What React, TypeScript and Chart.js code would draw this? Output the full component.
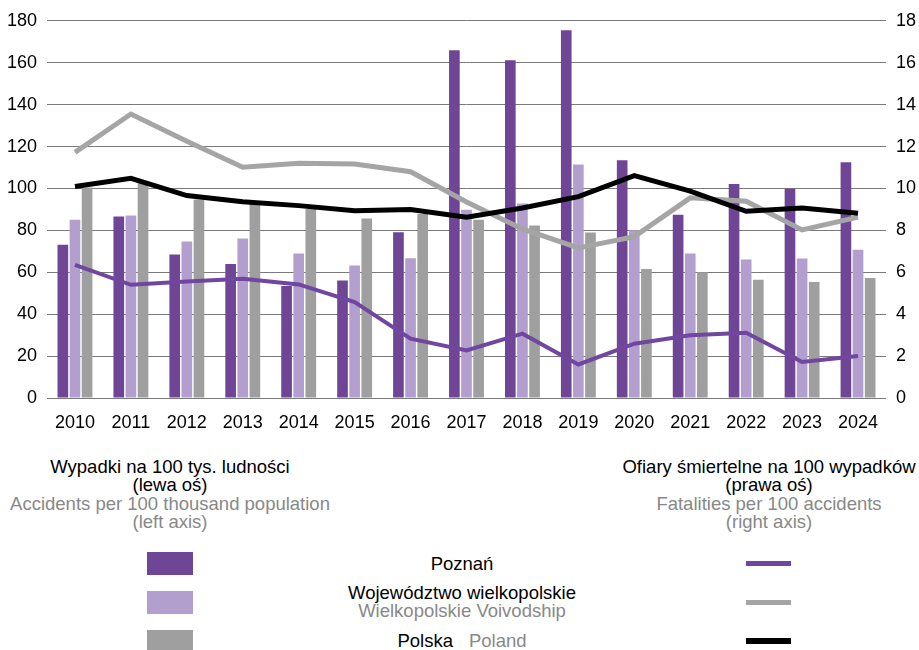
import React, { useEffect, useRef } from "react";
import { Chart, registerables } from "chart.js";

Chart.register(...registerables);

const years = ["2010","2011","2012","2013","2014","2015","2016","2017","2018","2019","2020","2021","2022","2023","2024"];

// Accidents per 100 thousand population (left axis)
const accPoznan = [73.1, 86.6, 68.5, 64.0, 53.5, 56.1, 79.1, 166.0, 161.2, 175.5, 113.4, 87.4, 102.1, 99.8, 112.5];
const accWlkp = [85.1, 87.1, 74.7, 76.1, 68.9, 63.2, 66.7, 89.8, 92.8, 111.4, 80.0, 68.9, 66.1, 66.6, 70.8];
const accPolska = [100.5, 102.5, 94.7, 92.6, 90.2, 85.6, 87.8, 85.1, 82.3, 79.0, 61.6, 60.0, 56.4, 55.4, 57.3];

// Fatalities per 100 accidents (right axis)
const fatPoznan = [6.35, 5.4, 5.56, 5.69, 5.42, 4.58, 2.83, 2.27, 3.07, 1.6, 2.59, 2.99, 3.11, 1.72, 2.0];
const fatWlkp = [11.72, 13.55, 12.25, 11.01, 11.2, 11.17, 10.8, 9.35, 8.07, 7.16, 7.7, 9.55, 9.39, 8.02, 8.63];
const fatPolska = [10.09, 10.48, 9.66, 9.37, 9.18, 8.94, 8.99, 8.63, 9.07, 9.61, 10.61, 9.87, 8.91, 9.07, 8.82];

const leftTicks = [0, 20, 40, 60, 80, 100, 120, 140, 160, 180];
const rightTicks = [0, 2, 4, 6, 8, 10, 12, 14, 16, 18];

const C_DARK = "#6F4696";
const C_LIGHT = "#B29FCE";
const C_GRAYBAR = "#9F9F9F";
const C_GRAYLINE = "#A5A5A5";
const C_PURPLELINE = "#7046A0";
const FONT = "'Liberation Sans', Arial, sans-serif";
const GRAYTXT = "#888888";

export default function App() {
  const ref = useRef<HTMLCanvasElement | null>(null);

  useEffect(() => {
    if (!ref.current) return;
    const bar = (label: string, data: number[], color: string) => ({
      type: "bar" as const,
      label,
      data,
      backgroundColor: color,
      borderWidth: 0,
      yAxisID: "y",
      order: 3,
      categoryPercentage: 0.65,
      barPercentage: 0.88,
    });
    const line = (label: string, data: number[], color: string, width: number, order: number) => ({
      type: "line" as const,
      label,
      data,
      borderColor: color,
      backgroundColor: color,
      borderWidth: width,
      pointRadius: 0,
      tension: 0,
      fill: false,
      borderCapStyle: "butt" as const,
      borderJoinStyle: "miter" as const,
      yAxisID: "y1",
      order,
    });
    const chart = new Chart(ref.current, {
      type: "bar",
      data: {
        labels: years,
        datasets: [
          bar("Poznań", accPoznan, C_DARK),
          bar("Województwo wielkopolskie", accWlkp, C_LIGHT),
          bar("Polska", accPolska, C_GRAYBAR),
          line("Poznań (ofiary)", fatPoznan, C_PURPLELINE, 4, 2),
          line("Wielkopolskie (ofiary)", fatWlkp, C_GRAYLINE, 5, 1),
          line("Polska (ofiary)", fatPolska, "#000000", 5, 0),
        ] as any,
      },
      options: {
        responsive: false,
        animation: false,
        devicePixelRatio: 1,
        layout: { padding: { top: 20, left: 0, right: 0, bottom: 0 } },
        plugins: { legend: { display: false }, tooltip: { enabled: false } },
        scales: {
          x: {
            grid: { display: false },
            border: { display: false },
            ticks: { color: "#000", font: { family: FONT, size: 18 }, padding: 6, maxRotation: 0, autoSkip: false },
            afterFit: (s: any) => { s.height = 47; },
          },
          y: {
            position: "left",
            min: 0,
            max: 180,
            afterBuildTicks: (s: any) => { s.ticks = leftTicks.map((v) => ({ value: v })); },
            grid: { color: "#7A7A7A", lineWidth: 1, drawTicks: false },
            border: { display: false },
            ticks: { color: "#000", font: { family: FONT, size: 18 }, padding: 10 },
            afterFit: (s: any) => { s.width = 47; },
          },
          y1: {
            position: "right",
            min: 0,
            max: 18,
            afterBuildTicks: (s: any) => { s.ticks = rightTicks.map((v) => ({ value: v })); },
            grid: { display: false, drawTicks: false },
            border: { display: false },
            ticks: { color: "#000", font: { family: FONT, size: 18 }, padding: 10 },
            afterFit: (s: any) => { s.width = 33; },
          },
        },
      } as any,
    });
    return () => chart.destroy();
  }, []);

  const txt: React.CSSProperties = {
    position: "absolute",
    fontFamily: FONT,
    fontSize: 18.5,
    lineHeight: "18.5px",
    textAlign: "center",
    whiteSpace: "nowrap",
    color: "#000",
  };

  return (
    <div style={{ position: "absolute", left: 0, top: 0, width: 919, height: 650, overflow: "hidden", background: "#fff" }}>
      <canvas ref={ref} width={919} height={445} style={{ position: "absolute", left: 0, top: 0, width: 919, height: 445 }} />
      <div style={{ ...txt, left: 0, width: 340, top: 457.5 }}>
        <div>Wypadki na 100 tys. ludności</div>
        <div>(lewa oś)</div>
        <div style={{ color: GRAYTXT }}>Accidents per 100 thousand population</div>
        <div style={{ color: GRAYTXT }}>(left axis)</div>
      </div>
      <div style={{ ...txt, left: 569, width: 400, top: 457.5 }}>
        <div>Ofiary śmiertelne na 100 wypadków</div>
        <div>(prawa oś)</div>
        <div style={{ color: GRAYTXT }}>Fatalities per 100 accidents</div>
        <div style={{ color: GRAYTXT }}>(right axis)</div>
      </div>
      <div style={{ position: "absolute", left: 147, top: 552, width: 46, height: 23, background: C_DARK }} />
      <div style={{ position: "absolute", left: 147, top: 591, width: 46, height: 23, background: C_LIGHT }} />
      <div style={{ position: "absolute", left: 147, top: 630, width: 46, height: 23, background: C_GRAYBAR }} />
      <div style={{ ...txt, left: 262, width: 400, top: 564 - 9.25 }}>Poznań</div>
      <div style={{ ...txt, left: 262, width: 400, top: 593 - 9.25 }}>
        <div>Województwo wielkopolskie</div>
        <div style={{ color: GRAYTXT }}>Wielkopolskie Voivodship</div>
      </div>
      <div style={{ ...txt, left: 262, width: 400, top: 641 - 9.25 }}>
        Polska<span style={{ color: GRAYTXT, marginLeft: 16 }}>Poland</span>
      </div>
      <div style={{ position: "absolute", left: 746, top: 561, width: 45, height: 5, background: C_PURPLELINE }} />
      <div style={{ position: "absolute", left: 746, top: 600, width: 45, height: 5, background: C_GRAYLINE }} />
      <div style={{ position: "absolute", left: 746, top: 638, width: 45, height: 6, background: "#000" }} />
    </div>
  );
}
